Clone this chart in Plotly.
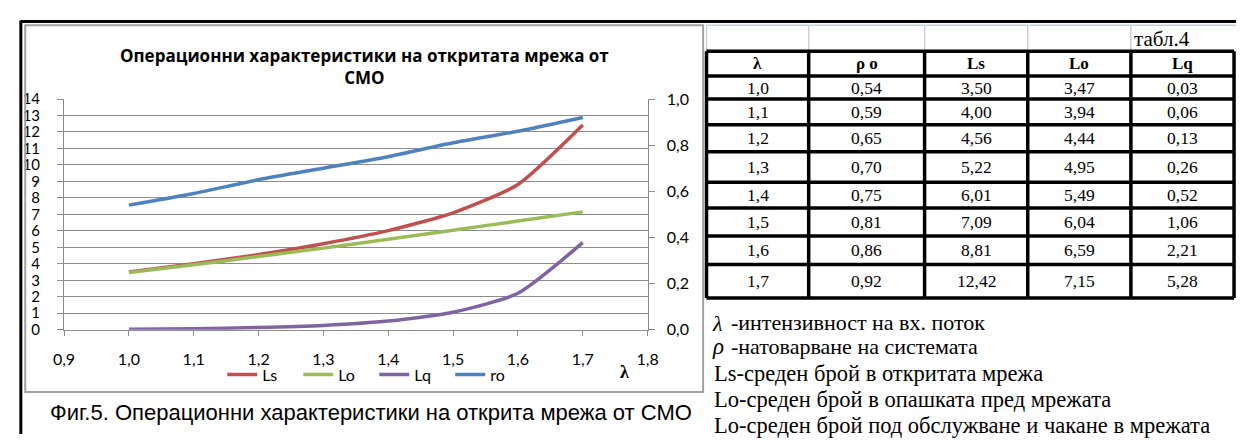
import plotly.graph_objects as go

# Values of the open network of queueing systems (табл.4)
lam = [1.0, 1.1, 1.2, 1.3, 1.4, 1.5, 1.6, 1.7]
rho = [0.54, 0.59, 0.65, 0.70, 0.75, 0.81, 0.86, 0.92]
Ls = [3.50, 4.00, 4.56, 5.22, 6.01, 7.09, 8.81, 12.42]
Lo = [3.47, 3.94, 4.44, 4.95, 5.49, 6.04, 6.59, 7.15]
Lq = [0.03, 0.06, 0.13, 0.26, 0.52, 1.06, 2.21, 5.28]

table_headers = ["λ", "ρ o", "Ls", "Lo", "Lq"]
notes = [
    "Ls-среден брой в откритата мрежа",
    "Lo-среден брой в опашката пред мрежата",
    "Lo-среден брой под обслужване и чакане в мрежата",
]

W, H = 1247, 443


def px(x):
    return x / W


def py(y):
    return 1 - y / H


GRID = "#8c8c8c"
SANS = "Lato"
SERIF = "Liberation Serif"

fig = go.Figure()
series = [("Ls", Ls, "#C0504D", "y"), ("Lo", Lo, "#9BBB59", "y"),
          ("Lq", Lq, "#8064A2", "y"), ("ro", rho, "#4F81BD", "y2")]
for name, vals, col, ax in series:
    fig.add_trace(go.Scatter(
        x=lam, y=vals, name=name, mode="lines", yaxis=ax,
        line=dict(color=col, width=3.5, shape="spline", smoothing=0.6),
    ))

fig.update_layout(
    width=W, height=H, margin=dict(l=0, r=0, t=0, b=0),
    paper_bgcolor="white", plot_bgcolor="white",
    separators=", ",
    font=dict(family=SANS, size=16, color="black"),
    xaxis=dict(
        domain=[px(54), px(648)], range=[0.9, 1.8], dtick=0.1, tick0=0.9,
        tickformat=".1f", showgrid=False, zeroline=False,
        showline=True, linecolor=GRID, linewidth=1,
        ticks="outside", ticklen=5, tickcolor=GRID,
        ticklabelstandoff=10, anchor="y", tickfont=dict(size=16),
    ),
    yaxis=dict(
        domain=[py(334), py(93)], range=[0, 14], dtick=1,
        showgrid=True, gridcolor=GRID, gridwidth=1, zeroline=False,
        showline=True, linecolor=GRID, linewidth=1,
        ticks="outside", ticklen=6, tickcolor=GRID, ticklabelstandoff=14,
        tickfont=dict(size=15),
    ),
    yaxis2=dict(
        overlaying="y", side="right", anchor="x", range=[0, 1], dtick=0.2,
        tickformat=".1f", showgrid=False, zeroline=False,
        showline=True, linecolor=GRID, linewidth=1,
        ticks="outside", ticklen=6, tickcolor=GRID, ticklabelstandoff=9,
        tickfont=dict(size=16),
    ),
    legend=dict(
        orientation="h", x=px(215), xanchor="left", y=py(381), yanchor="middle",
        entrywidth=31, entrywidthmode="pixels", bgcolor="rgba(0,0,0,0)",
        font=dict(family=SANS, size=16), itemwidth=30,
    ),
)

shapes = []


def seg(x0, y0, x1, y1, color, width):
    shapes.append(dict(type="line", xref="paper", yref="paper",
                       x0=px(x0), x1=px(x1), y0=py(y0), y1=py(y1),
                       line=dict(color=color, width=width)))


# outer black frame (top and left)
seg(10, 12, W, 12, "black", 3)
seg(10, 11, 10, H, "black", 3)
# chart area border
shapes.append(dict(type="rect", xref="paper", yref="paper",
                   x0=px(14.5), x1=px(704.5), y0=py(16), y1=py(399),
                   line=dict(color="#a0a0a0", width=2)))

# table geometry
col_x = [708, 812, 930, 1035, 1140, 1245]
row_y = [43, 69, 93, 120, 148, 180, 207, 236, 266, 301]
LIGHT = "#c7cfdd"
seg(708, 16, W, 16, LIGHT, 1.5)
for cx in col_x[:-1]:
    seg(cx, 16, cx, 43, LIGHT, 1.5)
for ry in row_y:
    seg(col_x[0], ry, col_x[-1], ry, "black", 3.5)
for cx in col_x:
    seg(cx, row_y[0], cx, row_y[-1], "black", 3.5)
fig.update_layout(shapes=shapes)

ann = []


def text(x, y, s, size, family, xanchor="center", bold=False, italic=False):
    if bold:
        s = f"<b>{s}</b>"
    if italic:
        s = f"<i>{s}</i>"
    ann.append(dict(x=px(x), y=py(y), xref="paper", yref="paper", text=s,
                    showarrow=False, xanchor=xanchor, yanchor="middle",
                    font=dict(family=family, size=size, color="black")))


# chart title (two lines)
text(360, 59, "Операционни характеристики на откритата мрежа от<br>СМО", 17, "Open Sans", bold=True)
# x axis title
text(625, 378, "λ", 18, SERIF, bold=True)
# figure caption
text(38, 421, "Фиг.5. Операционни характеристики на открита мрежа от СМО", 22,
     "Liberation Sans", xanchor="left")

# table
text(1141, 30, "табл.4", 21, SERIF, xanchor="left")
centers = [(col_x[i] + col_x[i + 1]) / 2 for i in range(5)]
for i, h in enumerate(table_headers):
    text(centers[i], (row_y[0] + row_y[1]) / 2, h, 17, SERIF, bold=True)


def fmt(v, d):
    return f"{v:.{d}f}".replace(".", ",")


for r in range(len(lam)):
    yc = (row_y[r + 1] + row_y[r + 2]) / 2
    vals = [fmt(lam[r], 1), fmt(rho[r], 2), fmt(Ls[r], 2), fmt(Lo[r], 2), fmt(Lq[r], 2)]
    for i, v in enumerate(vals):
        text(centers[i], yc, v, 17.5, SERIF)

# symbol notes
text(712, 328, "λ", 22, SERIF, xanchor="left", italic=True)
text(731, 326, "-интензивност на вх. поток", 22, SERIF, xanchor="left")
text(712, 352, "ρ", 23, SERIF, xanchor="left", italic=True)
text(731, 352, "-натоварване на системата", 22, SERIF, xanchor="left")
for k, s in enumerate(notes):
    text(714, 380 + 27 * k, s, 22.5, SERIF, xanchor="left")

fig.update_layout(annotations=ann)
fig.write_html("out.html")
